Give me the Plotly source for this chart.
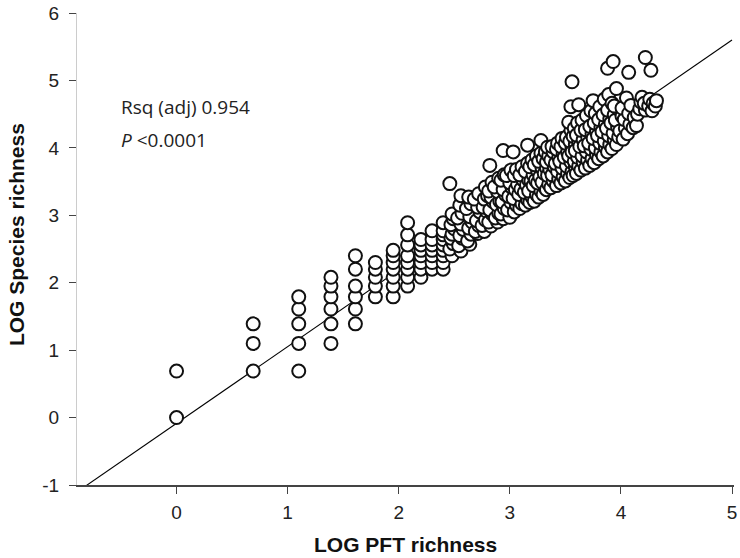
import plotly.graph_objects as go

# ---- data ----
# Low-richness plots: discrete columns of log(PFT count)
low_pft = (
    [0.00] * 2 + [0.69] * 3 + [1.10] * 5 + [1.39] * 6 + [1.61] * 6 +
    [1.79] * 5 + [1.95] * 7 + [2.08] * 8 + [2.20] * 7 + [2.30] * 7 + [2.40] * 9
)
low_species = [
    0.00, 0.69,
    0.69, 1.10, 1.39,
    0.69, 1.10, 1.39, 1.61, 1.79,
    1.10, 1.39, 1.61, 1.79, 1.95, 2.08,
    1.39, 1.61, 1.79, 1.95, 2.20, 2.40,
    1.79, 1.95, 2.08, 2.20, 2.30,
    1.79, 1.95, 2.08, 2.20, 2.30, 2.40, 2.48,
    1.95, 2.08, 2.20, 2.30, 2.40, 2.56, 2.71, 2.89,
    2.08, 2.20, 2.30, 2.40, 2.48, 2.56, 2.64,
    2.20, 2.30, 2.40, 2.48, 2.56, 2.64, 2.77,
    2.20, 2.30, 2.40, 2.48, 2.56, 2.64, 2.71, 2.77, 2.89,
]

# High-richness plots: the dense cloud
cloud_pft = [
    2.48, 2.46, 2.49, 2.47, 2.48, 2.50, 2.47, 2.49, 2.48, 2.46,
    2.56, 2.54, 2.57, 2.55, 2.58, 2.56, 2.53, 2.57, 2.55, 2.56,
    2.64, 2.62, 2.65, 2.63, 2.66, 2.64, 2.61, 2.65, 2.63,
    2.71, 2.69, 2.72, 2.70, 2.73, 2.71, 2.68, 2.72,
    2.77, 2.75, 2.78, 2.79, 2.76, 2.77, 2.80, 2.78,
    2.83, 2.81, 2.84, 2.82, 2.85, 2.83, 2.81, 2.84, 2.82,
    2.89, 2.87, 2.90, 2.88, 2.91, 2.89, 2.86, 2.90,
    2.94, 2.92, 2.95, 2.93, 2.96, 2.94, 2.92, 2.95, 2.94,
    3.00, 2.98, 3.01, 2.99, 3.02, 3.00, 2.97, 3.01, 3.03,
    3.04, 3.06, 3.03, 3.05, 3.07, 3.04, 3.06,
    3.09, 3.11, 3.08, 3.10, 3.12, 3.09, 3.11,
    3.14, 3.16, 3.13, 3.15, 3.17, 3.14, 3.16,
    3.18, 3.20, 3.17, 3.19, 3.21, 3.18, 3.20, 3.16,
    3.22, 3.24, 3.21, 3.23, 3.25, 3.22, 3.24,
    3.26, 3.28, 3.25, 3.27, 3.29, 3.26, 3.28,
    3.30, 3.32, 3.29, 3.31, 3.33, 3.30, 3.32, 3.28,
    3.33, 3.35, 3.34, 3.36, 3.33, 3.35, 3.34,
    3.37, 3.39, 3.38, 3.40, 3.37, 3.39, 3.38,
    3.42, 3.44, 3.43, 3.41, 3.44, 3.42, 3.43,
    3.46, 3.48, 3.47, 3.45, 3.48, 3.46, 3.47,
    3.50, 3.52, 3.51, 3.49, 3.52, 3.50, 3.51,
    3.54, 3.56, 3.55, 3.53, 3.56, 3.54, 3.55, 3.53,
    3.57, 3.59, 3.58, 3.56, 3.59, 3.57, 3.58, 3.55,
    3.60, 3.62, 3.61, 3.59, 3.62, 3.60, 3.61, 3.56,
    3.64, 3.66, 3.65, 3.63, 3.66, 3.64, 3.65, 3.62,
    3.68, 3.70, 3.69, 3.67, 3.70, 3.68, 3.69,
    3.72, 3.74, 3.73, 3.71, 3.74, 3.72, 3.73,
    3.76, 3.78, 3.77, 3.75, 3.78, 3.76, 3.77, 3.75,
    3.80, 3.82, 3.81, 3.79, 3.82, 3.80, 3.81,
    3.84, 3.86, 3.85, 3.83, 3.86, 3.84, 3.85,
    3.88, 3.90, 3.89, 3.87, 3.90, 3.88, 3.89,
    3.92, 3.94, 3.93, 3.91, 3.94, 3.92, 3.88,
    3.96, 3.98, 3.97, 3.95, 3.98, 3.96,
    3.99, 4.01, 3.94, 3.93,
    4.02, 4.04, 4.03, 4.01, 4.05,
    4.06, 4.08, 4.07, 4.09,
    4.11, 4.12, 4.07,
    4.14, 4.15,
    4.17, 4.18, 4.19,
    4.22, 4.21, 4.22,
    4.25, 4.26,
    4.28, 4.29, 4.27,
    4.31, 4.32,
]
cloud_species = [
    2.40, 2.50, 2.58, 2.66, 2.72, 2.80, 2.86, 2.95, 3.02, 3.47,
    2.47, 2.55, 2.66, 2.70, 2.79, 2.87, 2.96, 3.03, 3.15, 3.29,
    2.57, 2.62, 2.72, 2.81, 2.90, 2.98, 3.10, 3.17, 3.27,
    2.73, 2.76, 2.85, 2.92, 3.05, 3.12, 3.24, 3.32,
    2.76, 2.85, 2.93, 3.06, 3.12, 3.24, 3.29, 3.42,
    2.84, 2.90, 3.02, 3.08, 3.20, 3.27, 3.36, 3.49, 3.74,
    2.90, 2.96, 3.03, 3.16, 3.21, 3.35, 3.42, 3.55,
    2.95, 3.02, 3.10, 3.20, 3.31, 3.38, 3.52, 3.60, 3.96,
    2.97, 3.08, 3.19, 3.28, 3.41, 3.48, 3.59, 3.67, 3.94,
    3.05, 3.15, 3.25, 3.38, 3.46, 3.59, 3.68,
    3.10, 3.17, 3.31, 3.39, 3.52, 3.60, 3.72,
    3.15, 3.23, 3.34, 3.45, 3.52, 3.65, 3.77,
    3.19, 3.27, 3.36, 3.51, 3.60, 3.72, 3.82, 4.04,
    3.21, 3.31, 3.44, 3.52, 3.66, 3.75, 3.88,
    3.27, 3.36, 3.48, 3.57, 3.70, 3.80, 3.92,
    3.31, 3.41, 3.49, 3.62, 3.70, 3.84, 3.94, 4.11,
    3.38, 3.46, 3.59, 3.68, 3.79, 3.88, 4.01,
    3.41, 3.51, 3.60, 3.72, 3.82, 3.94, 4.02,
    3.44, 3.54, 3.65, 3.77, 3.86, 3.98, 4.07,
    3.48, 3.57, 3.70, 3.80, 3.92, 4.02, 4.14,
    3.51, 3.62, 3.73, 3.86, 3.94, 4.07, 4.16,
    3.56, 3.65, 3.79, 3.88, 4.01, 4.10, 4.26, 4.38,
    3.59, 3.72, 3.80, 3.94, 4.05, 4.17, 4.29, 4.61,
    3.62, 3.73, 3.86, 3.96, 4.10, 4.19, 4.37, 4.98,
    3.67, 3.79, 3.88, 4.02, 4.12, 4.26, 4.41, 4.64,
    3.70, 3.82, 3.94, 4.03, 4.17, 4.27, 4.48,
    3.74, 3.84, 3.98, 4.07, 4.21, 4.32, 4.55,
    3.78, 3.90, 4.00, 4.14, 4.24, 4.37, 4.51, 4.70,
    3.84, 3.94, 4.07, 4.18, 4.31, 4.42, 4.61,
    3.88, 4.01, 4.10, 4.24, 4.35, 4.49, 4.72,
    3.94, 4.05, 4.18, 4.29, 4.43, 4.56, 4.79,
    3.99, 4.12, 4.22, 4.37, 4.49, 4.66, 5.18,
    4.05, 4.16, 4.31, 4.41, 4.57, 4.88,
    4.25, 4.47, 4.62, 5.28,
    4.13, 4.29, 4.42, 4.59, 4.74,
    4.21, 4.35, 4.51, 4.63,
    4.30, 4.45, 5.12,
    4.33, 4.50,
    4.58, 4.68, 4.75,
    4.56, 4.66, 5.34,
    4.62, 4.72,
    4.55, 4.66, 5.15,
    4.62, 4.70,
]

log_pft = low_pft + cloud_pft
log_species = low_species + cloud_species

# fitted regression line
fit_slope = 1.137
fit_intercept = -0.085
fit_x = [-0.9, 5.0]

x_ticks = [0, 1, 2, 3, 4, 5]
y_ticks = [-1, 0, 1, 2, 3, 4, 5, 6]

stats_text = ["Rsq (adj) 0.954", "<i>P</i> &lt;0.0001"]

# ---- figure ----
fig = go.Figure()

fig.add_trace(go.Scatter(
    x=fit_x,
    y=[fit_slope * v + fit_intercept for v in fit_x],
    mode="lines",
    line=dict(color="#000000", width=1.1),
    hoverinfo="skip",
    showlegend=False,
))

fig.add_trace(go.Scatter(
    x=log_pft,
    y=log_species,
    mode="markers",
    marker=dict(size=13, color="#ffffff", line=dict(color="#111111", width=2)),
    showlegend=False,
    cliponaxis=False,
))

font_tick = dict(family="Liberation Sans, Arial, sans-serif", size=19, color="#222222")
font_title = dict(family="Liberation Sans, Arial, sans-serif", size=21, color="#111111")
font_stats = dict(family="Open Sans, sans-serif", size=19, color="#222222")

fig.update_layout(
    width=740,
    height=558,
    margin=dict(l=77, r=3, t=13, b=73),
    paper_bgcolor="#ffffff",
    plot_bgcolor="#ffffff",
    showlegend=False,
    xaxis=dict(
        range=[-0.896, 5.018],
        tickvals=x_ticks,
        ticktext=[str(t) for t in x_ticks],
        showgrid=False,
        zeroline=False,
        showline=True,
        linecolor="#444444",
        linewidth=1.5,
        ticks="outside",
        ticklen=7,
        tickwidth=1.2,
        tickcolor="#444444",
        tickfont=font_tick,
        ticklabelstandoff=2,
        ticklabeloverflow="allow",
    ),
    yaxis=dict(
        range=[-1.0, 6.0],
        tickvals=y_ticks,
        ticktext=[str(t) for t in y_ticks],
        showgrid=False,
        zeroline=False,
        showline=True,
        linecolor="#cccccc",
        linewidth=1,
        ticks="outside",
        ticklen=7,
        tickwidth=1.2,
        tickcolor="#444444",
        tickfont=font_tick,
        ticklabelstandoff=6,
    ),
    annotations=[
        dict(text="<b>LOG PFT richness</b>", xref="paper", yref="paper",
             x=0.5, y=-0.127, xanchor="center", yanchor="middle",
             showarrow=False, font=font_title),
        dict(text="<b>LOG Species richness</b>", xref="paper", yref="paper",
             x=-0.091, y=0.53, xanchor="center", yanchor="middle",
             textangle=-90, showarrow=False, font=font_title),
        dict(text=stats_text[0], xref="x", yref="y", x=-0.52, y=4.61,
             xanchor="left", yanchor="middle", showarrow=False, font=font_stats),
        dict(text=stats_text[1], xref="x", yref="y", x=-0.52, y=4.12,
             xanchor="left", yanchor="middle", showarrow=False, font=font_stats),
    ],
)

fig.write_html("out.html")
